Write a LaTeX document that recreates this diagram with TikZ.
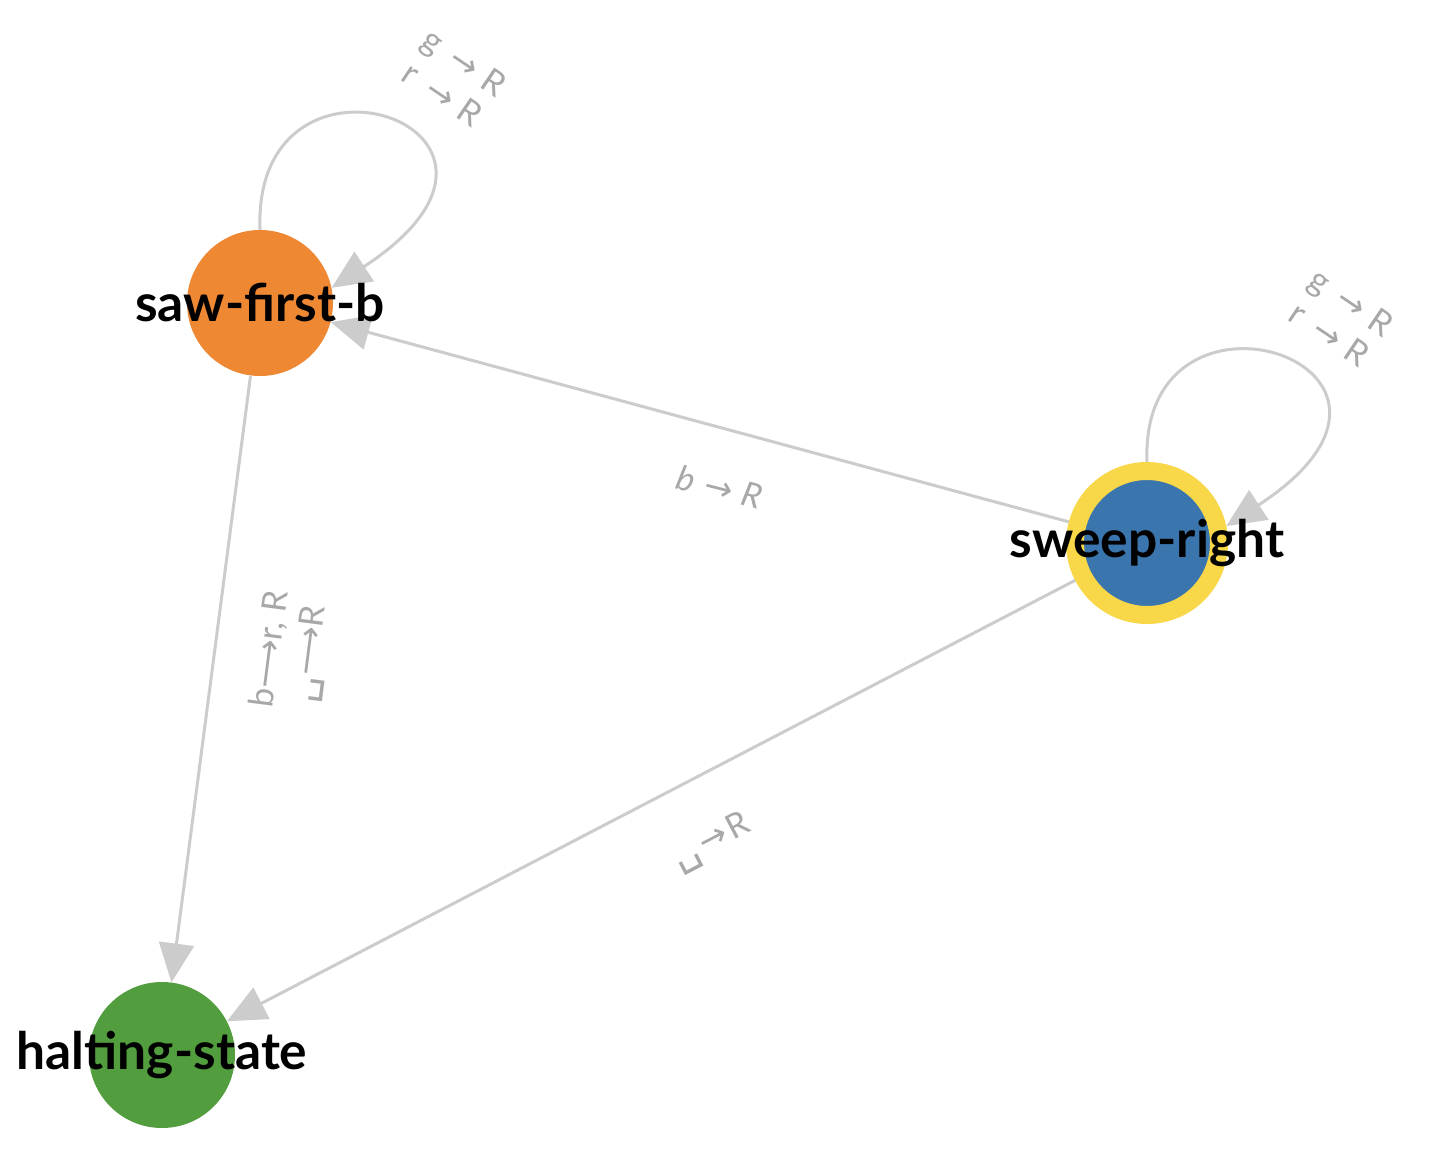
\documentclass[tikz,border=0pt]{standalone}
\usepackage{fontspec}
\setmainfont{Lato}
\newfontfamily\dejavu{DejaVu Sans}
\usetikzlibrary{arrows.meta}
\definecolor{edgegray}{HTML}{CCCCCC}
\definecolor{lblgray}{HTML}{A8A8A8}
\definecolor{sorange}{HTML}{EE8833}
\definecolor{sblue}{HTML}{3A75AE}
\definecolor{syellow}{HTML}{F8D748}
\definecolor{sgreen}{HTML}{529D3D}
\newcommand{\arr}{{\dejavu →}}
\newcommand{\larr}{{\dejavu ⟶}}
\newcommand{\vspc}{{\dejavu\fontsize{42}{42}\selectfont ␣}}
\begin{document}
\begin{tikzpicture}[x=1pt,y=-1pt,
  state/.style={circle, inner sep=0pt, minimum size=146pt},
  nlabel/.style={font=\fontsize{51.5}{56}\selectfont\bfseries, text=black, inner sep=0pt},
  elabel/.style={font=\fontsize{34}{39}\selectfont, text=lblgray, align=center, inner sep=0pt},
  edge/.style={draw=edgegray, line width=3pt, -{Triangle[length=39pt,width=35pt]}}
]
\useasboundingbox[fill=white] (0,0) rectangle (1454,1158);
% states
\node[state, fill=sorange] (sfb) at (260,303) {};
\node[state, fill=sblue, draw=syellow, line width=18pt, minimum size=144pt, outer sep=9pt] (sr) at (1147,543) {};
\node[state, fill=sgreen] (hs) at (162,1055) {};
% edges
\draw[edge] (sfb.90) .. controls +(-8,-210) and +(245,-160) .. (sfb.12);
\draw[edge] (sr.90) .. controls +(-8,-205) and +(245,-160) .. (sr.12);
\draw[edge] (sr) -- (sfb);
\draw[edge] (sr) -- (hs);
\draw[edge] (sfb) -- (hs);
% edge labels
\node[elabel, rotate=-34] (l1) at (454,78) {g\hspace{0.45em}\arr\hspace{0.3em}R\\r\hspace{0.45em}\arr\hspace{0.3em}R};
\node[elabel, rotate=-34] (l2) at (1341,318) {g\hspace{0.45em}\arr\hspace{0.3em}R\\r\hspace{0.45em}\arr\hspace{0.3em}R};
\node[elabel, rotate=-14.5] (l3) at (720,487) {\itshape b\hspace{0.3em}\arr\hspace{0.3em}R};
\node[elabel, rotate=82.7] (l4) at (292,652) {b\larr r, R\\\vspc\larr R};
\node[elabel, rotate=27.5] (l5) at (712,843) {\vspc\hspace{0.1em}\arr\hspace{0.1em}R};
% state labels
\node[nlabel] (sfbt) at (sfb.center) {saw-first-b};
\node[nlabel] (srt) at (sr.center) {sweep-right};
\node[nlabel] (hst) at (hs.center) {halting-state};
\end{tikzpicture}
\end{document}
